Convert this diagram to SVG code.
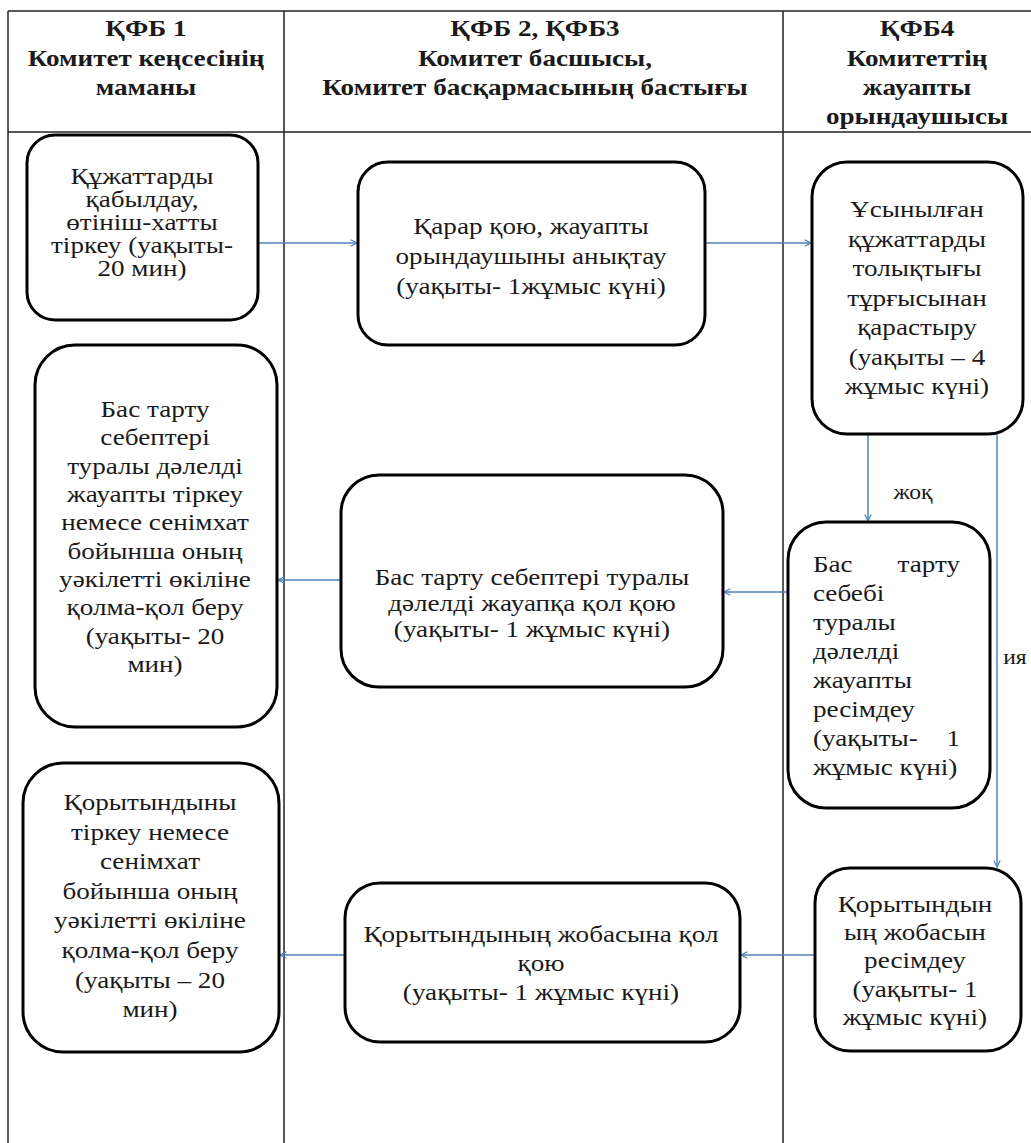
<svg xmlns="http://www.w3.org/2000/svg" width="1031" height="1143" viewBox="0 0 1031 1143">
  <style>
    .grid { stroke: #222; stroke-width: 1.5; fill: none; }
    .box { fill: #fff; stroke: #000; stroke-width: 3; }
    .t { font-family: "Liberation Serif", "Times New Roman", serif; font-size: 23px; fill: #1a1a1a; text-anchor: middle; }
    .h { font-weight: bold; }
    .l { text-anchor: start; }
    .lbl { font-size: 20px; }
    .edge { stroke: #4f81bd; stroke-width: 1.5; fill: none; marker-end: url(#arr); }
  </style>
  <defs>
    <marker id="arr" viewBox="0 0 10 10" refX="9" refY="5" markerWidth="8" markerHeight="8" markerUnits="userSpaceOnUse" orient="auto">
      <path d="M1,1 L9,5 L1,9" fill="none" stroke="#4f81bd" stroke-width="1.5"/>
    </marker>
  </defs>
  <rect width="1031" height="1143" fill="#fff"/>

  <!-- swimlane table; captions are widened 1.18x about each column centre -->
  <g id="lanes">
    <path class="grid" d="M8,11 H1031 M8,132 H1031 M8,11 V1143 M284,11 V1143 M783,11 V1143"/>
    <g transform="matrix(1.18 0 0 1 -26.28 0)">
      <text class="t h" x="146" y="36">ҚФБ 1</text>
      <text class="t h" x="146" y="66">Комитет кеңсесінің</text>
      <text class="t h" x="146" y="95">маманы</text>
    </g>
    <g transform="matrix(1.18 0 0 1 -96.3 0)">
      <text class="t h" x="535" y="36">ҚФБ 2, ҚФБ3</text>
      <text class="t h" x="535" y="66">Комитет басшысы,</text>
      <text class="t h" x="535" y="95">Комитет басқармасының бастығы</text>
    </g>
    <g transform="matrix(1.18 0 0 1 -165.06 0)">
      <text class="t h" x="917" y="36">ҚФБ4</text>
      <text class="t h" x="917" y="66">Комитеттің</text>
      <text class="t h" x="917" y="95">жауапты</text>
      <text class="t h" x="917" y="124">орындаушысы</text>
    </g>
  </g>

  <!-- connectors -->
  <g id="connectors">
    <line class="edge" x1="258" y1="243" x2="357" y2="243"/>
    <line class="edge" x1="705" y1="243" x2="811" y2="243"/>
    <line class="edge" x1="868" y1="434" x2="868" y2="521"/>
    <line class="edge" x1="997" y1="434" x2="997" y2="867"/>
    <line class="edge" x1="788" y1="592" x2="724" y2="592"/>
    <line class="edge" x1="341" y1="580" x2="278" y2="580"/>
    <line class="edge" x1="815" y1="955" x2="741" y2="955"/>
    <line class="edge" x1="345" y1="955" x2="280" y2="955"/>
    <text class="t lbl" x="913" y="499" transform="matrix(1.18 0 0 1 -164.34 0)">жоқ</text>
    <text class="t lbl" x="1015" y="664" transform="matrix(1.18 0 0 1 -182.7 0)">ия</text>
  </g>

  <g id="n1">
    <rect class="box" x="27" y="135" width="231" height="185" rx="28"/>
    <g transform="matrix(1.18 0 0 1 -25.56 0)">
      <text class="t" x="142" y="184">Құжаттарды</text>
      <text class="t" x="142" y="207">қабылдау,</text>
      <text class="t" x="142" y="230">өтініш-хатты</text>
      <text class="t" x="142" y="253">тіркеу (уақыты-</text>
      <text class="t" x="142" y="276">20 мин)</text>
    </g>
  </g>

  <g id="n2">
    <rect class="box" x="358" y="162" width="347" height="183" rx="30"/>
    <g transform="matrix(1.18 0 0 1 -95.58 0)">
      <text class="t" x="531" y="234">Қарар қою, жауапты</text>
      <text class="t" x="531" y="264">орындаушыны анықтау</text>
      <text class="t" x="531" y="294">(уақыты- 1жұмыс күні)</text>
    </g>
  </g>

  <g id="n3">
    <rect class="box" x="812" y="162" width="211" height="272" rx="35"/>
    <g transform="matrix(1.18 0 0 1 -165.06 0)">
      <text class="t" x="917" y="217">Ұсынылған</text>
      <text class="t" x="917" y="247">құжаттарды</text>
      <text class="t" x="917" y="276">толықтығы</text>
      <text class="t" x="917" y="306">тұрғысынан</text>
      <text class="t" x="917" y="335">қарастыру</text>
      <text class="t" x="917" y="365">(уақыты – 4</text>
      <text class="t" x="917" y="394">жұмыс күні)</text>
    </g>
  </g>

  <g id="n4">
    <rect class="box" x="35" y="345" width="242" height="382" rx="40"/>
    <g transform="matrix(1.18 0 0 1 -27.9 0)">
      <text class="t" x="155" y="417">Бас тарту</text>
      <text class="t" x="155" y="445">себептері</text>
      <text class="t" x="155" y="474">туралы дәлелді</text>
      <text class="t" x="155" y="502">жауапты тіркеу</text>
      <text class="t" x="155" y="530">немесе сенімхат</text>
      <text class="t" x="155" y="559">бойынша оның</text>
      <text class="t" x="155" y="587">уәкілетті өкіліне</text>
      <text class="t" x="155" y="615">қолма-қол беру</text>
      <text class="t" x="155" y="644">(уақыты- 20</text>
      <text class="t" x="155" y="672">мин)</text>
    </g>
  </g>

  <g id="n5">
    <rect class="box" x="341" y="475" width="382" height="212" rx="38"/>
    <g transform="matrix(1.18 0 0 1 -95.76 0)">
      <text class="t" x="532" y="585">Бас тарту себептері туралы</text>
      <text class="t" x="532" y="611">дәлелді жауапқа қол қою</text>
      <text class="t" x="532" y="637">(уақыты- 1 жұмыс күні)</text>
    </g>
  </g>

  <g id="n6">
    <rect class="box" x="788" y="522" width="202" height="286" rx="38"/>
    <!-- justified paragraph, widened about its left margin -->
    <g transform="matrix(1.18 0 0 1 -146.34 0)">
      <text class="t l" y="572"><tspan x="813">Бас</tspan><tspan x="937.6" text-anchor="end">тарту</tspan></text>
      <text class="t l" x="813" y="601">себебі</text>
      <text class="t l" x="813" y="630">туралы</text>
      <text class="t l" x="813" y="659">дәлелді</text>
      <text class="t l" x="813" y="688">жауапты</text>
      <text class="t l" x="813" y="717">ресімдеу</text>
      <text class="t l" y="746"><tspan x="813">(уақыты-</tspan><tspan x="937.6" text-anchor="end">1</tspan></text>
      <text class="t l" x="813" y="775">жұмыс күні)</text>
    </g>
  </g>

  <g id="n7">
    <rect class="box" x="23" y="763" width="256" height="289" rx="40"/>
    <g transform="matrix(1.18 0 0 1 -27 0)">
      <text class="t" x="150" y="810">Қорытындыны</text>
      <text class="t" x="150" y="840">тіркеу немесе</text>
      <text class="t" x="150" y="869">сенімхат</text>
      <text class="t" x="150" y="899">бойынша оның</text>
      <text class="t" x="150" y="928">уәкілетті өкіліне</text>
      <text class="t" x="150" y="958">қолма-қол беру</text>
      <text class="t" x="150" y="988">(уақыты – 20</text>
      <text class="t" x="150" y="1017">мин)</text>
    </g>
  </g>

  <g id="n8">
    <rect class="box" x="345" y="883" width="395" height="159" rx="35"/>
    <g transform="matrix(1.18 0 0 1 -97.38 0)">
      <text class="t" x="541" y="942">Қорытындының жобасына қол</text>
      <text class="t" x="541" y="971">қою</text>
      <text class="t" x="541" y="1000">(уақыты- 1 жұмыс күні)</text>
    </g>
  </g>

  <g id="n9">
    <rect class="box" x="815" y="868" width="206" height="183" rx="35"/>
    <g transform="matrix(1.18 0 0 1 -164.7 0)">
      <text class="t" x="915" y="912">Қорытындын</text>
      <text class="t" x="915" y="940">ың жобасын</text>
      <text class="t" x="915" y="968">ресімдеу</text>
      <text class="t" x="915" y="997">(уақыты- 1</text>
      <text class="t" x="915" y="1025">жұмыс күні)</text>
    </g>
  </g>
</svg>
